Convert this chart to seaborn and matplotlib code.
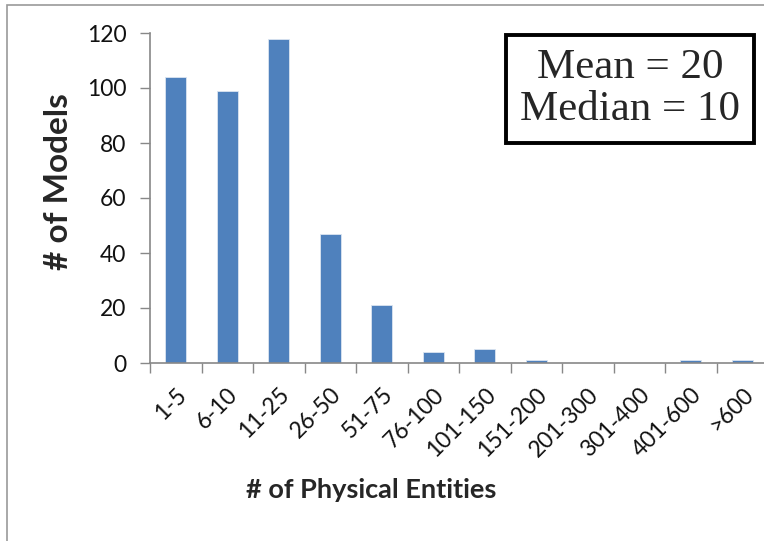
import pandas as pd
import matplotlib
matplotlib.use("Agg")
import matplotlib.pyplot as plt
import seaborn as sns
from matplotlib.patches import Rectangle

# Data
bins = ["1-5", "6-10", "11-25", "26-50", "51-75", "76-100", "101-150",
        "151-200", "201-300", "301-400", "401-600", ">600"]
n_models = [104, 99, 118, 47, 21, 4, 5, 1, 0, 0, 1, 1]
y_ticks = [0, 20, 40, 60, 80, 100, 120]


def main():
    df = pd.DataFrame({"Entities": bins, "Models": n_models})

    sns.set_theme(style="white")
    plt.rcParams["font.family"] = ["Lato", "DejaVu Sans"]

    fig = plt.figure(figsize=(7.64, 5.41), dpi=100)
    ax = fig.add_axes([150 / 764, 1 - 363 / 541, 618 / 764, 330 / 541])

    sns.barplot(data=df, x="Entities", y="Models", color="#4F81BD",
                width=0.4, edgecolor="#dbe5f1", linewidth=0.6, saturation=1,
                ax=ax)

    ax.set_xlim(-0.5, len(bins) - 0.5)
    ax.set_ylim(0, 120)
    ax.set_yticks(y_ticks)
    ax.tick_params(axis="y", labelsize=16.5, length=7, width=1, color="#888888",
                   left=True, pad=10, labelcolor="#111111")

    # category labels in the middle, tick marks on the boundaries
    ax.set_xticks(range(len(bins)))
    ax.set_xticklabels(bins, rotation=45, ha="right", rotation_mode="anchor")
    ax.tick_params(axis="x", which="major", length=0, labelsize=16.5, pad=15,
                   labelcolor="#111111")
    ax.set_xticks([i - 0.5 for i in range(len(bins) + 1)], minor=True)
    ax.tick_params(axis="x", which="minor", length=7, width=1, color="#888888",
                   bottom=True)

    for side in ["top", "right"]:
        ax.spines[side].set_visible(False)
    for side in ["left", "bottom"]:
        ax.spines[side].set_color("#888888")
        ax.spines[side].set_linewidth(1.2)

    ax.set_xlabel("")
    ax.set_ylabel("")
    fig.text(58 / 764, 1 - 182 / 541, "# of Models", rotation=90,
             ha="center", va="center", fontsize=24, fontweight="bold")
    fig.text(371 / 764, 1 - 490 / 541, "# of Physical Entities",
             ha="center", va="center", fontsize=19.5, fontweight="bold")

    # summary box
    fig.text(630 / 764, 1 - 89 / 541, "Mean = 20\nMedian = 10",
             ha="center", va="center", multialignment="center",
             fontsize=31, family="Liberation Serif", linespacing=1.12,
             bbox=dict(boxstyle="square,pad=0.33", facecolor="white",
                       edgecolor="black", linewidth=2.8))

    # thin grey frame around the figure (left and top edges visible)
    fig.patches.append(Rectangle((7 / 764, -0.1), 1.2, 1 - 5 / 541 + 0.1,
                                 transform=fig.transFigure, fill=False,
                                 edgecolor="#999999", linewidth=1.2))

    fig.savefig("out.png", dpi=100)


if __name__ == "__main__":
    main()
